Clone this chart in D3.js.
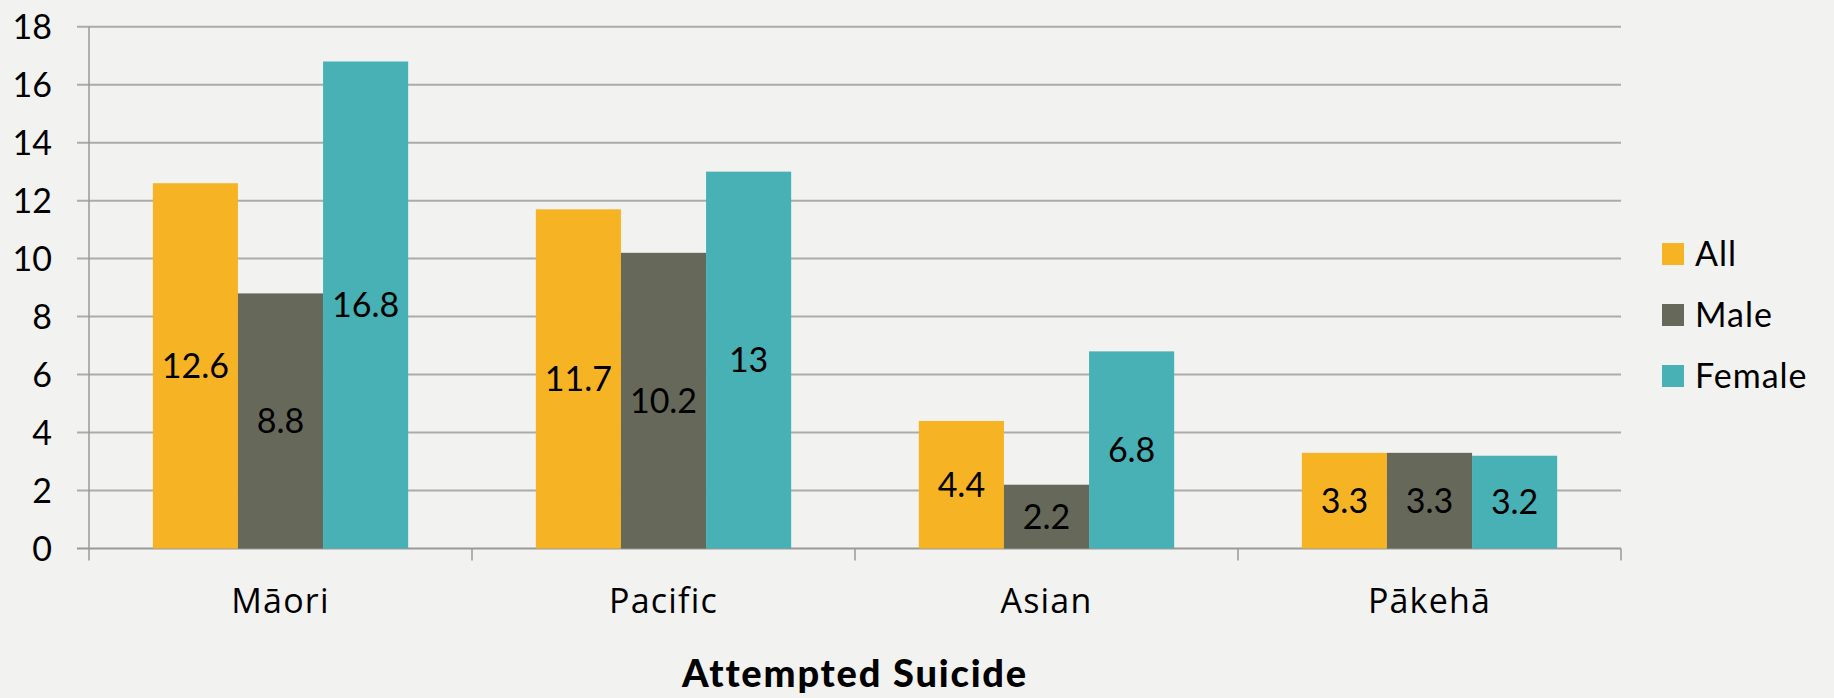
<!DOCTYPE html>
<html lang="en">
<head>
<meta charset="UTF-8">
<title>Attempted Suicide</title>
<style>
  html, body { margin: 0; padding: 0; background: #f2f2f0; }
  svg { display: block; }
</style>
</head>
<body>
<script src="https://d3js.org/d3.v7.min.js"></script>
<script>
  // data
  const groups = ['Māori', 'Pacific', 'Asian', 'Pākehā'];
  const seriesNames = ['All', 'Male', 'Female'];
  const allVals = [12.6, 11.7, 4.4, 3.3];
  const maleVals = [8.8, 10.2, 2.2, 3.3];
  const femaleVals = [16.8, 13, 6.8, 3.2];
  const yTicks = [0, 2, 4, 6, 8, 10, 12, 14, 16, 18];
  const colours = ['#f6b324', '#666959', '#47b1b5'];
  const title = 'Attempted Suicide';

  const W = 1834, H = 698;
  const plotL = 89, plotR = 1621, plotT = 26.7, plotB = 548.5;
  const labelFont = 'Lato, "Open Sans", sans-serif';

  const svg = d3.select('body').append('svg')
    .attr('width', W)
    .attr('height', H);

  const x0 = d3.scaleBand().domain(groups).range([plotL, plotR]).padding(0);
  const x1 = d3.scaleBand().domain(seriesNames).range([0, x0.bandwidth()])
    .paddingInner(0).paddingOuter(0.75);
  const y = d3.scaleLinear().domain([0, 18]).range([plotB, plotT]);

  // gridlines
  svg.append('g')
    .selectAll('line')
    .data(yTicks)
    .enter()
    .append('line')
    .attr('x1', plotL - 12)
    .attr('x2', plotR)
    .attr('y1', d => y(d))
    .attr('y2', d => y(d))
    .attr('stroke', d => d === 0 ? '#999' : '#ababab')
    .attr('stroke-width', 2);

  // y axis line
  svg.append('line')
    .attr('x1', plotL).attr('x2', plotL)
    .attr('y1', plotT).attr('y2', plotB + 12)
    .attr('stroke', '#999').attr('stroke-width', 1.5);

  // category ticks
  const bounds = groups.map(g => x0(g)).concat([plotR]);
  svg.append('g')
    .selectAll('line')
    .data(bounds.slice(1))
    .enter()
    .append('line')
    .attr('x1', d => d).attr('x2', d => d)
    .attr('y1', plotB).attr('y2', plotB + 12)
    .attr('stroke', '#999').attr('stroke-width', 1.5);

  // y labels
  svg.append('g')
    .selectAll('text')
    .data(yTicks)
    .enter()
    .append('text')
    .text(d => d)
    .attr('x', 52)
    .attr('y', d => y(d))
    .attr('dy', '0.36em')
    .attr('text-anchor', 'end')
    .attr('font-family', labelFont)
    .attr('font-size', 34)
    .attr('fill', '#000');

  // bars
  const rows = groups.map((g, i) => ({
    group: g,
    values: [allVals[i], maleVals[i], femaleVals[i]]
  }));

  const grp = svg.append('g')
    .selectAll('g')
    .data(rows)
    .enter()
    .append('g')
    .attr('transform', d => `translate(${x0(d.group)},0)`);

  grp.selectAll('rect')
    .data(d => d.values.map((v, k) => ({ name: seriesNames[k], value: v, k: k })))
    .enter()
    .append('rect')
    .attr('x', d => x1(d.name))
    .attr('y', d => y(d.value))
    .attr('width', x1.bandwidth())
    .attr('height', d => y(0) - y(d.value))
    .attr('fill', d => colours[d.k]);

  grp.selectAll('text')
    .data(d => d.values.map((v, k) => ({ name: seriesNames[k], value: v })))
    .enter()
    .append('text')
    .text(d => d.value)
    .attr('x', d => x1(d.name) + x1.bandwidth() / 2)
    .attr('y', d => (y(d.value) + y(0)) / 2)
    .attr('dy', '0.36em')
    .attr('text-anchor', 'middle')
    .attr('font-family', labelFont)
    .attr('font-size', 34)
    .attr('fill', '#000');

  // category labels
  svg.append('g')
    .selectAll('text')
    .data(groups)
    .enter()
    .append('text')
    .text(d => d)
    .attr('x', d => x0(d) + x0.bandwidth() / 2)
    .attr('y', 613)
    .attr('text-anchor', 'middle')
    .attr('font-family', '"Open Sans", sans-serif')
    .attr('font-size', 34)
    .attr('letter-spacing', 1.2)
    .attr('fill', '#000');

  // axis title
  svg.append('text')
    .text(title)
    .attr('x', (plotL + plotR) / 2)
    .attr('y', 687)
    .attr('text-anchor', 'middle')
    .attr('font-family', labelFont)
    .attr('font-weight', 900)
    .attr('font-size', 38)
    .attr('letter-spacing', 1.8)
    .attr('fill', '#000');

  // legend
  const leg = svg.append('g')
    .selectAll('g')
    .data(seriesNames)
    .enter()
    .append('g')
    .attr('transform', (d, i) => `translate(1662,${243 + i * 61})`);

  leg.append('rect')
    .attr('width', 22)
    .attr('height', 22)
    .attr('fill', (d, i) => colours[i]);

  leg.append('text')
    .text(d => d)
    .attr('x', 33)
    .attr('y', 11)
    .attr('dy', '0.36em')
    .attr('font-family', labelFont)
    .attr('font-size', 34)
    .attr('letter-spacing', 1)
    .attr('fill', '#000');
</script>
</body>
</html>
